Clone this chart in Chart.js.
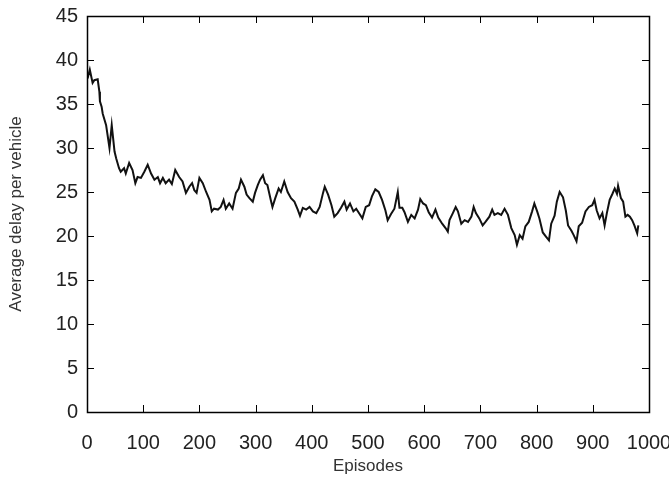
<!DOCTYPE html>
<html>
<head>
<meta charset="utf-8">
<title>Average delay per vehicle</title>
<script src="https://cdn.jsdelivr.net/npm/chart.js@4.4.1/dist/chart.umd.min.js"></script>
<style>
html, body { margin: 0; padding: 0; background: #fff; }
#wrap { width: 669px; height: 480px; }
</style>
</head>
<body>
<div id="wrap"><canvas id="chart" width="669" height="480"></canvas></div>
<script>
// values
const episodes = [
  1, 5, 10, 13, 19, 22, 23, 26, 28, 34, 40, 44, 49, 52, 57, 60, 66, 69, 75, 81,
  86, 90, 96, 102, 108, 114, 120, 126, 130, 135, 140, 146, 151, 157, 164, 170, 176, 182, 187, 191,
  195, 200, 206, 212, 218, 222, 226, 233, 238, 243, 247, 253, 259, 265, 270, 274, 280, 284, 289, 295,
  299, 304, 308, 313, 317, 321, 327, 330, 335, 341, 345, 351, 357, 363, 369, 375, 379, 384, 390, 396,
  402, 408, 414, 420, 423, 429, 435, 440, 446, 452, 458, 462, 468, 474, 479, 485, 490, 496, 502, 507,
  513, 519, 525, 531, 535, 541, 547, 553, 556, 561, 565, 571, 577, 583, 589, 593, 598, 603, 608, 614,
  620, 625, 632, 638, 642, 645, 651, 656, 660, 666, 672, 678, 684, 688, 692, 698, 704, 709, 716, 721,
  725, 731, 737, 743, 749, 755, 761, 765, 770, 775, 780, 786, 792, 796, 801, 805, 811, 817, 822, 826,
  832, 836, 841, 847, 852, 856, 862, 866, 871, 875, 881, 887, 893, 899, 903, 907, 912, 917, 921, 925,
  930, 935, 939, 943, 945, 950, 954, 958, 962, 966, 970, 974, 979, 981
];
const delays = [
  37.9, 38.9, 37.4, 37.7, 37.8, 36.4, 35.3, 34.7, 33.9, 32.6, 30.0, 32.6, 29.6, 28.8, 27.7, 27.3, 27.7, 27.1, 28.3, 27.5,
  26.0, 26.7, 26.6, 27.3, 28.1, 27.1, 26.4, 26.7, 26.0, 26.6, 26.0, 26.4, 25.9, 27.5, 26.7, 26.2, 24.9, 25.6, 26.0, 25.2,
  24.9, 26.6, 26.0, 25.0, 24.1, 22.8, 23.1, 23.0, 23.3, 24.1, 23.1, 23.7, 23.1, 24.9, 25.4, 26.4, 25.6, 24.7, 24.3, 23.9,
  24.9, 25.8, 26.4, 26.9, 26.0, 25.8, 24.1, 23.3, 24.3, 25.4, 25.0, 26.2, 25.0, 24.3, 23.9, 23.0, 22.3, 23.2, 23.0, 23.3,
  22.8, 22.6, 23.3, 24.9, 25.6, 24.7, 23.5, 22.2, 22.6, 23.2, 23.9, 23.0, 23.7, 22.8, 23.1, 22.5, 22.0, 23.3, 23.5, 24.5,
  25.3, 25.0, 24.1, 22.9, 21.8, 22.5, 23.1, 25.0, 23.2, 23.2, 22.7, 21.6, 22.4, 22.0, 23.0, 24.2, 23.7, 23.5, 22.7, 22.1,
  23.0, 22.1, 21.4, 20.9, 20.5, 21.8, 22.6, 23.3, 22.8, 21.4, 21.8, 21.6, 22.2, 23.3, 22.6, 22.0, 21.2, 21.6, 22.2, 23.0,
  22.4, 22.6, 22.4, 23.1, 22.4, 20.9, 20.1, 19.0, 20.1, 19.7, 21.1, 21.6, 22.8, 23.7, 22.8, 22.0, 20.4, 19.9, 19.5, 21.4,
  22.3, 23.9, 25.0, 24.4, 22.9, 21.2, 20.6, 20.1, 19.4, 21.1, 21.5, 22.8, 23.3, 23.5, 24.1, 22.9, 22.0, 22.6, 21.2, 22.6,
  24.1, 24.8, 25.4, 24.8, 25.7, 24.3, 23.9, 22.2, 22.4, 22.2, 21.8, 21.2, 20.3, 21.2
];
const xTickValues = [0, 100, 200, 300, 400, 500, 600, 700, 800, 900, 1000];
const yTickValues = [0, 5, 10, 15, 20, 25, 30, 35, 40, 45];

const points = episodes.map((e, i) => ({ x: e, y: delays[i] }));

// gnuplot風: 枠線と内向きの目盛り
const frameTicks = {
  id: 'frameTicks',
  afterDatasetsDraw(chart) {
    const { ctx, chartArea: a, scales: { x, y } } = chart;
    const len = 7;
    ctx.save();
    ctx.strokeStyle = '#000';
    ctx.lineWidth = 1;
    ctx.beginPath();
    x.ticks.forEach(t => {
      const px = Math.round(x.getPixelForValue(t.value)) + 0.5;
      ctx.moveTo(px, a.bottom); ctx.lineTo(px, a.bottom - len);
      ctx.moveTo(px, a.top); ctx.lineTo(px, a.top + len);
    });
    y.ticks.forEach(t => {
      const py = Math.round(y.getPixelForValue(t.value)) + 0.5;
      ctx.moveTo(a.left, py); ctx.lineTo(a.left + len, py);
      ctx.moveTo(a.right, py); ctx.lineTo(a.right - len, py);
    });
    ctx.stroke();
    ctx.lineWidth = 1.5;
    ctx.strokeRect(Math.round(a.left) + 0.5, Math.round(a.top) + 0.5, Math.round(a.width), Math.round(a.height));
    ctx.restore();
  }
};

const tickFont = { family: "'Liberation Sans', Arial, sans-serif", size: 20 };
const titleFont = { family: "'Liberation Sans', Arial, sans-serif", size: 17 };

new Chart(document.getElementById('chart'), {
  type: 'line',
  data: {
    datasets: [{
      data: points,
      borderColor: '#111',
      borderWidth: 2,
      pointRadius: 0,
      tension: 0,
      fill: false
    }]
  },
  options: {
    responsive: false,
    animation: false,
    layout: { padding: { left: 0, right: 20, top: 16, bottom: 0 } },
    plugins: { legend: { display: false }, tooltip: { enabled: false } },
    scales: {
      x: {
        type: 'linear',
        min: 0,
        max: 1000,
        afterBuildTicks: s => { s.ticks = xTickValues.map(v => ({ value: v })); },
        afterFit: s => { s.height = 68; s.paddingLeft = 0; s.paddingRight = 0; },
        grid: { display: false, drawTicks: false },
        border: { display: false },
        ticks: { color: '#222', font: tickFont, padding: 19, maxRotation: 0, autoSkip: false, callback: v => String(v) },
        title: { display: true, text: 'Episodes', color: '#333', font: titleFont, padding: { top: 0, bottom: 3 } }
      },
      y: {
        min: 0,
        max: 45,
        afterBuildTicks: s => { s.ticks = yTickValues.map(v => ({ value: v })); },
        afterFit: s => { s.width = 87; s.paddingTop = 0; s.paddingBottom = 0; },
        grid: { display: false, drawTicks: false },
        border: { display: false },
        ticks: { color: '#222', font: tickFont, padding: 9, autoSkip: false, callback: v => String(v) },
        title: { display: true, text: 'Average delay per vehicle', color: '#333', font: titleFont, padding: { top: 6, bottom: 0 } }
      }
    }
  },
  plugins: [frameTicks]
});
</script>
</body>
</html>
